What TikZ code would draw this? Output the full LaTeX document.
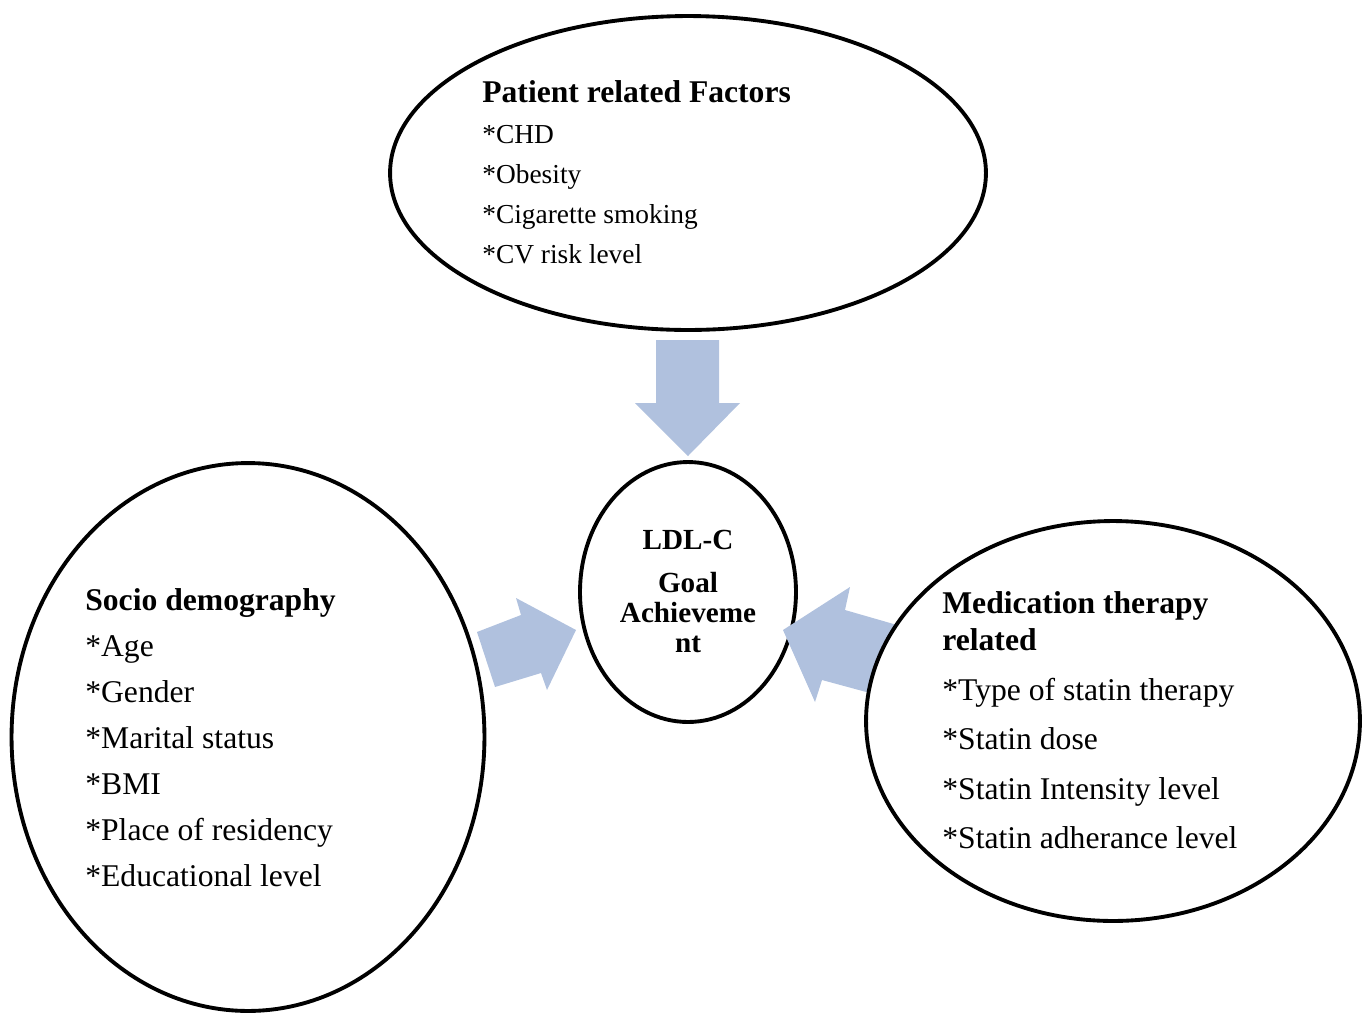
\documentclass[tikz,border=0pt]{standalone}
\usepackage{fontspec}
\setmainfont{Liberation Serif}
\usetikzlibrary{shapes.geometric}
\definecolor{arrowblue}{RGB}{176,193,222}

\begin{document}
\begin{tikzpicture}[x=0.02cm, y=-0.02cm,
  bubble/.style={draw, ellipse, line width=2.2pt, fill=white, inner sep=0pt},
  blockarrow/.style={fill=arrowblue},
  heading/.style={anchor=base west, inner sep=0pt, font=\fontsize{18}{22}\selectfont\bfseries},
  item/.style={anchor=base west, inner sep=0pt, font=\fontsize{18}{22}\selectfont},
  smallitem/.style={anchor=base west, inner sep=0pt, font=\fontsize{15.6}{19}\selectfont},
  goaltext/.style={anchor=base, inner sep=0pt, font=\fontsize{16.6}{19}\selectfont\bfseries}]
  \useasboundingbox (0,0) rectangle (1370,1012);

  % Bubbles
  \node[bubble, minimum width=4.32cm, minimum height=5.2cm] (goal) at (688,592) {};
  \node[bubble, minimum width=11.92cm, minimum height=6.28cm] (patient) at (688,173) {};
  \node[bubble, minimum width=9.46cm, minimum height=10.96cm] (socio) at (248,737) {};

  % Block arrows
  \fill[blockarrow] (656,340) -- (719,340) -- (719,403) -- (740,403) -- (688,456)
    -- (635,403) -- (656,403) -- cycle;
  \fill[blockarrow] (477,632) -- (521,615) -- (516,598) -- (576,630) -- (547,690)
    -- (541,673) -- (495,687) -- cycle;
  \fill[blockarrow] (904,627) -- (845,610) -- (850,587) -- (783,630) -- (815,702)
    -- (822,680) -- (881,696) -- cycle;

  \node[bubble, minimum width=9.88cm, minimum height=8cm] (medication) at (1113,721) {};

  % Patient related factors
  \node[heading] (pattitle) at (482,102) {Patient related Factors};
  \foreach \txt [count=\i from 0] in {*CHD, *Obesity, *Cigarette smoking, *CV risk level}
    \node[smallitem, name=pat\i] at (482,143+40*\i) {\txt};

  % Socio demography
  \node[heading] (soctitle) at (85,610) {Socio demography};
  \foreach \txt [count=\i from 0] in {*Age, *Gender, *Marital status, *BMI, *Place of residency, *Educational level}
    \node[item, name=soc\i] at (85,656+46*\i) {\txt};

  % Medication therapy related
  \node[heading] (medtitle1) at (942,613) {Medication therapy};
  \node[heading] (medtitle2) at (942,650) {related};
  \foreach \txt [count=\i from 0] in {*Type of statin therapy, *Statin dose, *Statin Intensity level, *Statin adherance level}
    \node[item, name=med\i] at (942,700+49.5*\i) {\txt};

  % Goal
  \node[goaltext] (ldl) at (688,549) {LDL-C};
  \node[goaltext] (goal1) at (688,592) {Goal};
  \node[goaltext] (goal2) at (688,622) {Achieveme};
  \node[goaltext] (goal3) at (688,652) {nt};
\end{tikzpicture}
\end{document}
